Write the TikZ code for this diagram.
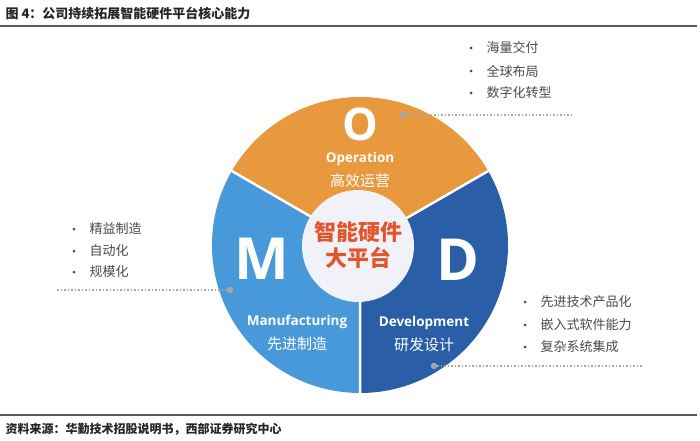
\documentclass[tikz,border=0pt]{standalone}
\usepackage{fontspec}
\setmainfont{Open Sans}
\newfontfamily\cjk{Noto Sans CJK SC}
\usepackage{tikz}
\usetikzlibrary{calc}

\definecolor{opcol}{HTML}{E8983D}
\definecolor{mfcol}{HTML}{4799D9}
\definecolor{dvcol}{HTML}{2A5EA6}
\definecolor{hubcol}{HTML}{F1F2F7}
\definecolor{hubtext}{HTML}{E2562B}
\definecolor{listtext}{HTML}{4A4A4A}
\definecolor{rulecol}{HTML}{5A5A5A}

\tikzset{
  bigletter/.style={text=white,inner sep=0pt,text depth=0pt,font=\fontsize{58}{58}\selectfont\bfseries},
  engname/.style={text=white,inner sep=1pt,font=\fontsize{13.5}{14}\selectfont\bfseries},
  cnname/.style={text=white,inner sep=1pt,font=\cjk\fontsize{15}{16}\selectfont},
  item/.style={anchor=west,text=listtext,font=\cjk\fontsize{13}{14}\selectfont},
  bullet/.style={circle,fill=listtext,inner sep=0pt,minimum size=3pt},
  pin/.style={circle,fill=gray!70,inner sep=0pt,minimum size=6.5pt},
  leader/.style={draw=gray!70,line width=1.3pt,dash pattern=on 1.3pt off 2.2pt},
  sep/.style={draw=white,line width=2.5pt}
}

\begin{document}
\begin{tikzpicture}[x=1pt,y=1pt]
      \useasboundingbox (0,0) rectangle (700,440);

      \node[anchor=west,font=\cjk\fontsize{13}{14}\selectfont\bfseries,text=black!85] (title) at (2,427) {图 4：公司持续拓展智能硬件平台核心能力};
      \draw[rulecol,line width=1.6pt] (0,414) -- (697,414);
      \draw[rulecol,line width=1.6pt] (0,25) -- (697,25);
      \node[anchor=west,font=\cjk\fontsize{12}{13}\selectfont\bfseries,text=black!85] (src) at (2,11) {资料来源：华勤技术招股说明书，西部证券研究中心};

      \coordinate (C) at (360,195);
      \fill[opcol] (C) -- ++(30:148) arc (30:150:148) -- cycle;
      \fill[mfcol] (C) -- ++(150:148) arc (150:270:148) -- cycle;
      \fill[dvcol] (C) -- ++(270:148) arc (270:390:148) -- cycle;
      \path[sep] (C) -- ++(30:149) (C) -- ++(150:149) (C) -- ++(270:149);
      \fill[hubcol] (358,194) circle (56);

      \node[text=hubtext,font=\cjk\fontsize{22}{24}\selectfont\bfseries] (hub1) at (358,208) {智能硬件};
      \node[text=hubtext,font=\cjk\fontsize{22}{24}\selectfont\bfseries] (hub2) at (358,182) {大平台};

      \node[bigletter,font=\fontsize{45}{45}\selectfont\bfseries,anchor=base] (O) at (360,300) {O};
      \node[engname] (Oen) at (360,281) {Operation};
      \node[cnname] (Ocn) at (360,259) {高效运营};

      \node[bigletter] (M) at (262,181) {M};
      \node[engname] (Men) at (297,118) {Manufacturing};
      \node[cnname] (Mcn) at (297,96) {先进制造};

      \node[bigletter] (D) at (458,180) {D};
      \node[engname] (Den) at (424,117) {Development};
      \node[cnname] (Dcn) at (424,95) {研发设计};

      \node[pin] (Opin) at (403,325) {};
      \coordinate (Oend) at (572,325);
      \path[leader] (Opin) -- (Oend);
      \node[item] (O1) at (483,392) {海量交付};
      \node[item] (O2) at (483,369) {全球布局};
      \node[item] (O3) at (483,347) {数字化转型};
      \foreach \n in {O1,O2,O3} \node[bullet] at ($(\n.west)+(-12,0)$) {};

      \node[pin] (Mpin) at (230,150) {};
      \coordinate (Mend) at (56,150);
      \path[leader] (Mpin) -- (Mend);
      \node[item] (M1) at (86,211) {精益制造};
      \node[item] (M2) at (86,189) {自动化};
      \node[item] (M3) at (86,168) {规模化};
      \foreach \n in {M1,M2,M3} \node[bullet] at ($(\n.west)+(-12,0)$) {};

      \node[pin] (Dpin) at (434,74) {};
      \coordinate (Dend) at (642,74);
      \path[leader] (Dpin) -- (Dend);
      \node[item] (D1) at (537,138) {先进技术产品化};
      \node[item] (D2) at (537,115) {嵌入式软件能力};
      \node[item] (D3) at (537,93) {复杂系统集成};
      \foreach \n in {D1,D2,D3} \node[bullet] at ($(\n.west)+(-12,0)$) {};
    \end{tikzpicture}
\end{document}
